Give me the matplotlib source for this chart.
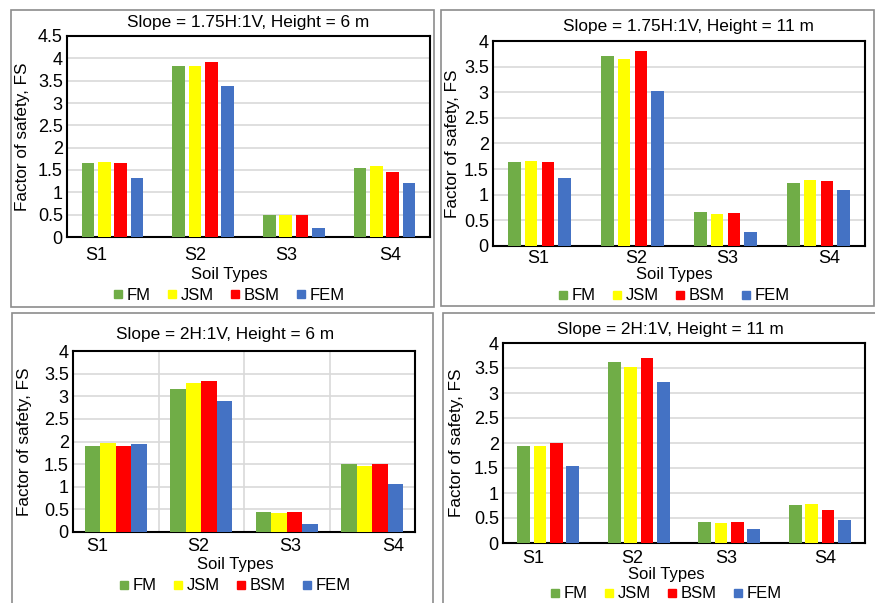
import numpy as np
import matplotlib.pyplot as plt
from matplotlib.patches import Rectangle
from matplotlib.lines import Line2D

plt.rcParams['font.family'] = ['Liberation Sans', 'DejaVu Sans']
plt.rcParams['font.size'] = 12

W, H = 875, 603

soils = ["S1", "S2", "S3", "S4"]
methods = ["FM", "JSM", "BSM", "FEM"]
colors = ["#70AD47", "#FFFF00", "#FF0000", "#4472C4"]

titles = ["Slope = 1.75H:1V, Height = 6 m", "Slope = 1.75H:1V, Height = 11 m",
          "Slope = 2H:1V, Height = 6 m", "Slope = 2H:1V, Height = 11 m"]

# rows: FM, JSM, BSM, FEM ; columns: S1..S4
fs_175_6 = [[1.65, 3.83, 0.50, 1.54],
            [1.69, 3.82, 0.50, 1.60],
            [1.65, 3.91, 0.49, 1.45],
            [1.31, 3.38, 0.20, 1.20]]
fs_175_11 = [[1.63, 3.71, 0.66, 1.23],
             [1.65, 3.64, 0.62, 1.29],
             [1.63, 3.80, 0.64, 1.27],
             [1.33, 3.02, 0.27, 1.09]]
fs_2_6 = [[1.91, 3.15, 0.44, 1.50],
          [1.96, 3.30, 0.41, 1.46],
          [1.91, 3.34, 0.44, 1.50],
          [1.94, 2.90, 0.18, 1.06]]
fs_2_11 = [[1.95, 3.63, 0.43, 0.77],
           [1.95, 3.52, 0.40, 0.79],
           [2.00, 3.71, 0.42, 0.67],
           [1.55, 3.22, 0.28, 0.47]]
data = [fs_175_6, fs_175_11, fs_2_6, fs_2_11]

# layout in pixels
layouts = [
    dict(ax=(67, 36, 430, 237), ymax=4.5, bw=0.14, off=[-0.18, -0.085, -0.08, 0.06], pad=7,
         title=(248, 23), xlab=(229, 275), ylab=23, leg=(229, 295), frame=(11, 10, 434, 307), vgrid=False),
    dict(ax=(493, 41, 865, 246), ymax=4.0, bw=0.135, off=[-0.01, 0.04, 0.02, 0.11], pad=3,
         title=(688, 27), xlab=(674, 275), ylab=452, leg=(674, 296), frame=(441, 10, 874, 306), vgrid=False),
    dict(ax=(73, 351, 415, 532), ymax=4.0, bw=0.18, off=[-0.22, -0.04, 0.04, 0.24], pad=4.5,
         title=(225, 335), xlab=(235, 565), ylab=25, leg=(235, 586), frame=(12, 313, 433, 640), vgrid=True),
    dict(ax=(503, 343, 865, 543), ymax=4.0, bw=0.14, off=[-0.17, -0.07, -0.03, 0.06], pad=5,
         title=(670, 330), xlab=(666, 574), ylab=457, leg=(666, 594), frame=(443, 313, 876, 640), vgrid=False),
]

fig = plt.figure(figsize=(W / 100, H / 100), dpi=100)

def fx(x):
    return x / W

def fy(y):
    return 1 - y / H

x = np.arange(len(soils))
pitch = 0.18
handles = [Line2D([], [], marker='s', linestyle='none', markersize=5.5, color=c) for c in colors]

for vals, lay, title in zip(data, layouts, titles):
    l, t, r, b = lay['frame']
    fig.add_artist(Rectangle((fx(l), fy(b)), fx(r - l), (b - t) / H, transform=fig.transFigure,
                             fill=False, edgecolor='#8c8c8c', linewidth=1.2))

    l, t, r, b = lay['ax']
    ax = fig.add_axes([fx(l), fy(b), fx(r - l), (b - t) / H])
    for i, (m, c) in enumerate(zip(methods, colors)):
        ax.bar(x + (i - 1.5) * pitch, vals[i], width=lay['bw'], color=c, label=m, zorder=3)

    ax.set_xlim(-0.5, 3.5)
    ax.set_ylim(0, lay['ymax'])
    yt = np.arange(0, lay['ymax'] + 0.01, 0.5)
    ax.set_yticks(yt)
    ax.set_yticklabels([f"{v:g}" for v in yt])
    ax.set_xticks(x + np.array(lay['off']))
    ax.set_xticklabels(soils)
    ax.tick_params(axis='both', length=0, labelsize=13)
    ax.tick_params(axis='x', pad=lay['pad'])
    ax.tick_params(axis='y', pad=3)
    ax.yaxis.grid(True, color='#d9d9d9', linewidth=1.2, zorder=0)
    if lay['vgrid']:
        for g in [0.5, 1.5, 2.5]:
            ax.axvline(g, color='#d9d9d9', linewidth=1.2, zorder=0)
    for s in ax.spines.values():
        s.set_linewidth(1.5)
        s.set_color('black')
    ax.set_axisbelow(True)

    ax.set_ylabel("Factor of safety, FS", fontsize=12.3, va='center')
    ax.yaxis.set_label_coords(fx(lay['ylab']), fy((t + b) / 2), transform=fig.transFigure)
    ax.set_xlabel("Soil Types", fontsize=12, va='center')
    ax.xaxis.set_label_coords(fx(lay['xlab'][0]), fy(lay['xlab'][1]), transform=fig.transFigure)

    fig.text(fx(lay['title'][0]), fy(lay['title'][1]), title, ha='center', va='center', fontsize=12.4)

    ax.legend(handles, methods, loc='center', ncol=4, frameon=False, fontsize=12,
              bbox_to_anchor=(fx(lay['leg'][0]), fy(lay['leg'][1])), bbox_transform=fig.transFigure,
              handlelength=0.6, handletextpad=0.2, columnspacing=1.0, borderpad=0, borderaxespad=0)

fig.savefig("out.png", dpi=100)
